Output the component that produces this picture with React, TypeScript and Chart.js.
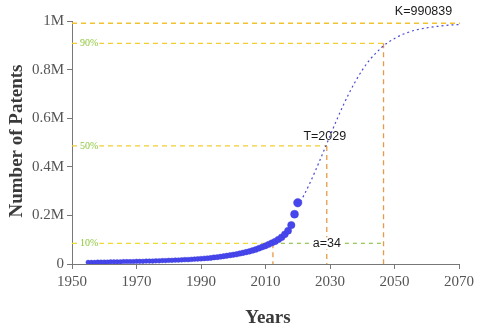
import { useEffect, useRef } from 'react';
import { Chart, registerables } from 'chart.js';

Chart.register(...registerables);

// Observed cumulative patents per year
const years = [
  1955, 1956, 1957, 1958, 1959, 1960, 1961, 1962, 1963, 1964,
  1965, 1966, 1967, 1968, 1969, 1970, 1971, 1972, 1973, 1974,
  1975, 1976, 1977, 1978, 1979, 1980, 1981, 1982, 1983, 1984,
  1985, 1986, 1987, 1988, 1989, 1990, 1991, 1992, 1993, 1994,
  1995, 1996, 1997, 1998, 1999, 2000, 2001, 2002, 2003, 2004,
  2005, 2006, 2007, 2008, 2009, 2010, 2011, 2012, 2013, 2014,
  2015, 2016, 2017, 2018, 2019, 2020,
];
const patents = [
  7000, 7000, 7000, 8000, 8000, 8000, 8000, 9000, 9000, 9000,
  9000, 10000, 10000, 10000, 10000, 11000, 11000, 11000, 12000, 12000,
  12000, 13000, 13000, 14000, 14000, 15000, 15000, 16000, 16000, 17000,
  18000, 18000, 19000, 20000, 21000, 22000, 23000, 24000, 25000, 27000,
  28000, 30000, 32000, 34000, 36000, 38000, 40000, 43000, 46000, 49000,
  52000, 56000, 60000, 65000, 70000, 75000, 81000, 87000, 93000, 101000,
  110000, 122000, 137000, 160000, 205000, 252000,
];

// Fitted logistic curve
const fitYears = [
  2020, 2022, 2024, 2026, 2028, 2030, 2032, 2034, 2036, 2038, 2040, 2042,
  2044, 2046, 2048, 2050, 2052, 2054, 2056, 2058, 2060, 2062, 2064, 2066,
  2068, 2070,
];
const fitValues = [
  240000, 285000, 340000, 400000, 463000, 527000, 590000, 650000, 705000, 754000, 798000, 835000,
  865000, 891000, 912000, 928000, 942000, 952000, 961000, 967000, 972000, 976000, 979000, 982000,
  984000, 985000,
];

// Guide lines: 10%, 50%, 90% levels and the years where the curve reaches them
const guideLabels = ['10%', '50%', '90%'];
const guideLevels = [85000, 486000, 908000];
const guideYears = [2012.3, 2029, 2046.6];
const K = 990839;
const T = 2029;
const A = 34;

const xTicks = [1950, 1970, 1990, 2010, 2030, 2050, 2070];
const yTicks = [0, 200000, 400000, 600000, 800000, 1000000];

const SERIF = "'Liberation Serif', 'Times New Roman', serif";
const SANS = "'Liberation Sans', Arial, sans-serif";

const guidesPlugin = {
  id: 'guides',
  beforeDatasetsDraw(chart: any) {
    const { ctx } = chart;
    const xs = chart.scales.x;
    const ys = chart.scales.y;
    const px = (v: number) => xs.getPixelForValue(v);
    const py = (v: number) => ys.getPixelForValue(v);
    const left = xs.left;
    const bottom = ys.bottom;
    ctx.save();
    ctx.lineWidth = 1.3;
    ctx.setLineDash([5, 4]);
    const seg = (x1: number, y1: number, x2: number, y2: number, color: string) => {
      ctx.strokeStyle = color;
      ctx.beginPath();
      ctx.moveTo(x1, y1);
      ctx.lineTo(x2, y2);
      ctx.stroke();
    };
    // K line
    seg(left, py(K), xs.right + 1, py(K), '#f2c230');
    // 50% and 90% horizontals
    seg(left, py(guideLevels[1]), px(guideYears[1]), py(guideLevels[1]), '#f2ce30');
    seg(left, py(guideLevels[2]), px(guideYears[2]), py(guideLevels[2]), '#f2ce30');
    // 10% horizontal (yellow) then a-span (green)
    seg(left, py(guideLevels[0]), px(guideYears[0]), py(guideLevels[0]), '#ecdc30');
    ctx.setLineDash([4, 4]);
    seg(px(guideYears[0]), py(guideLevels[0]), px(guideYears[2]), py(guideLevels[0]), '#9cc860');
    ctx.setLineDash([5, 4]);
    // verticals
    for (let i = 0; i < guideYears.length; i++) {
      seg(px(guideYears[i]), py(guideLevels[i]), px(guideYears[i]), bottom, '#e89a48');
    }
    // percentage labels
    ctx.setLineDash([]);
    ctx.font = `10px ${SERIF}`;
    ctx.textAlign = 'left';
    ctx.textBaseline = 'middle';
    for (let i = 0; i < guideLabels.length; i++) {
      const y = py(guideLevels[i]);
      const w = ctx.measureText(guideLabels[i]).width;
      ctx.fillStyle = '#ffffff';
      ctx.fillRect(left + 7, y - 5, w + 2, 10);
      ctx.fillStyle = '#8cc63a';
      ctx.fillText(guideLabels[i], left + 8, y + 0.5);
    }
    // a label
    ctx.font = `12.5px ${SANS}`;
    ctx.textAlign = 'center';
    const aText = `a=${A}`;
    const aw = ctx.measureText(aText).width;
    const ay = py(guideLevels[0]);
    const ax = xs.getPixelForValue(T);
    ctx.fillStyle = '#ffffff';
    ctx.fillRect(ax - aw / 2 - 3, ay - 6, aw + 6, 12);
    ctx.fillStyle = '#1a1a1a';
    ctx.fillText(aText, ax, ay + 0.5);
    ctx.restore();
  },
  afterDraw(chart: any) {
    const { ctx } = chart;
    const xs = chart.scales.x;
    const ys = chart.scales.y;
    ctx.save();
    ctx.fillStyle = '#1a1a1a';
    ctx.font = `12.5px ${SANS}`;
    ctx.textAlign = 'center';
    ctx.textBaseline = 'middle';
    ctx.fillText(`K=${K}`, xs.getPixelForValue(2059), 12);
    ctx.fillText(`T=${T}`, xs.getPixelForValue(T) - 2, ys.getPixelForValue(guideLevels[1]) - 9);
    // axis titles
    ctx.fillStyle = '#3a3a3a';
    ctx.font = `bold 19px ${SERIF}`;
    ctx.fillText('Years', 268, 318);
    ctx.translate(17, 141);
    ctx.rotate(-Math.PI / 2);
    ctx.fillText('Number of Patents', 0, 0);
    ctx.restore();
  },
};

export default function App() {
  const ref = useRef<HTMLCanvasElement>(null);
  useEffect(() => {
    const maxV = Math.max(...patents);
    const chart = new Chart(ref.current as HTMLCanvasElement, {
      type: 'scatter',
      data: {
        datasets: [
          {
            type: 'scatter',
            data: years.map((y, i) => ({ x: y, y: patents[i] })),
            backgroundColor: '#4646ec',
            borderColor: 'rgba(60,60,220,0.9)',
            borderWidth: 0.5,
            pointRadius: (c: any) => {
              const v = c.raw ? c.raw.y : 0;
              return 1.8 + 2.4 * Math.sqrt(v / maxV);
            },
          } as any,
          {
            type: 'line',
            data: fitYears.map((y, i) => ({ x: y, y: fitValues[i] })),
            borderColor: '#4a4ad8',
            borderWidth: 1.2,
            borderDash: [2, 3],
            pointRadius: 0,
            fill: false,
            cubicInterpolationMode: 'monotone',
            showLine: true,
          } as any,
        ],
      },
      options: {
        responsive: false,
        maintainAspectRatio: false,
        devicePixelRatio: 1,
        animation: false,
        layout: { padding: { left: 0, top: 21, right: 17, bottom: 0 } },
        plugins: { legend: { display: false }, tooltip: { enabled: false } },
        scales: {
          x: {
            type: 'linear',
            min: 1950,
            max: 2070,
            afterFit: (s: any) => { s.height = 67; },
            afterBuildTicks: (s: any) => { s.ticks = xTicks.map((v) => ({ value: v })); },
            ticks: {
              color: '#555555',
              font: { family: SERIF, size: 15 },
              padding: 4,
              maxRotation: 0,
              callback: (v: any) => String(v),
            },
            grid: { drawOnChartArea: false, drawTicks: true, tickLength: 5, color: '#777777' },
            border: { display: true, color: '#777777', width: 1 },
          },
          y: {
            type: 'linear',
            min: 0,
            max: 1000000,
            afterFit: (s: any) => { s.width = 72; },
            afterBuildTicks: (s: any) => { s.ticks = yTicks.map((v) => ({ value: v })); },
            ticks: {
              color: '#555555',
              font: { family: SERIF, size: 15 },
              padding: 3,
              callback: (v: any) => (v === 0 ? '0' : `${Number(v) / 1e6}M`),
            },
            grid: { drawOnChartArea: false, drawTicks: true, tickLength: 5, color: '#777777' },
            border: { display: true, color: '#777777', width: 1 },
          },
        },
      },
      plugins: [guidesPlugin],
    });
    return () => chart.destroy();
  }, []);
  return (
    <div style={{ position: 'absolute', left: 0, top: 0, width: 478, height: 331, background: '#ffffff' }}>
      <canvas ref={ref} width={478} height={331} style={{ display: 'block', width: 478, height: 331 }} />
    </div>
  );
}
